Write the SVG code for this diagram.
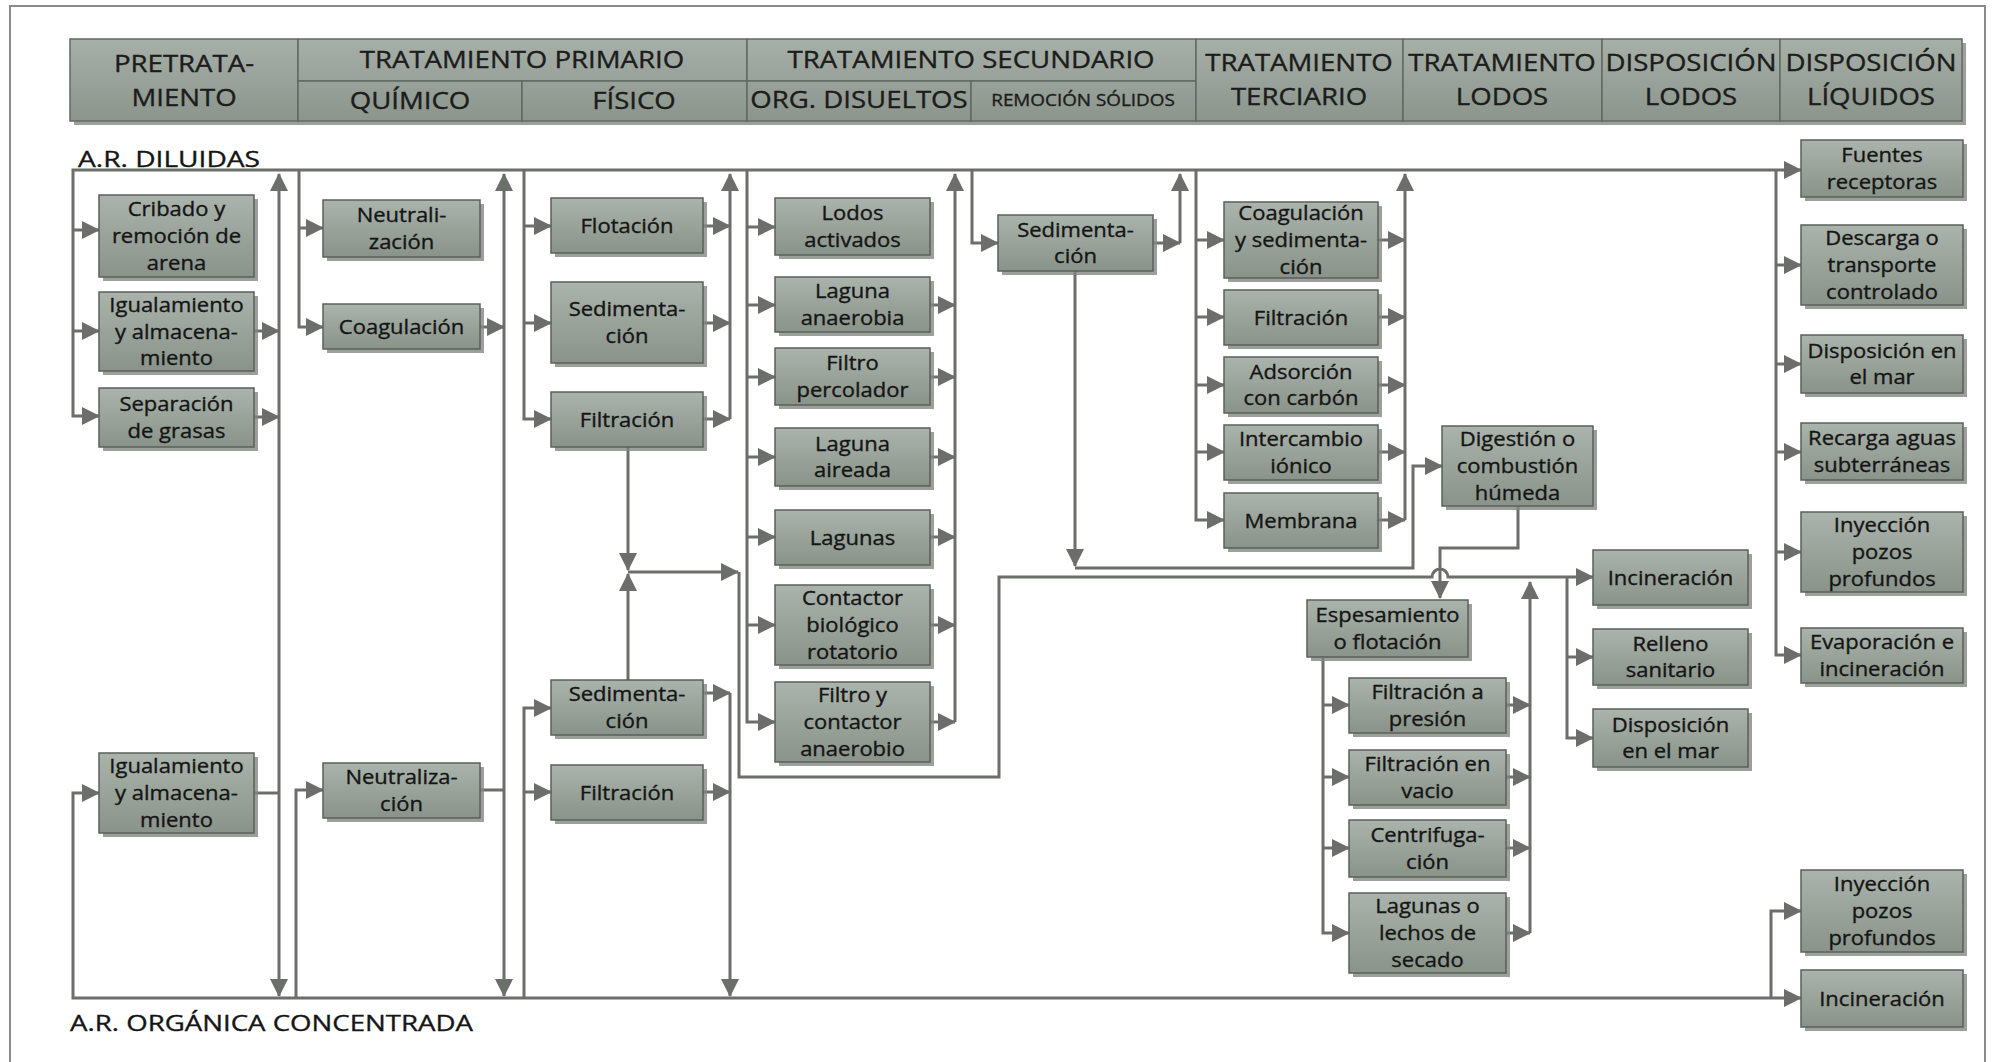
<svg xmlns="http://www.w3.org/2000/svg" width="1993" height="1062" viewBox="0 0 1993 1062">
  <defs>
    <linearGradient id="boxg" x1="0" y1="0" x2="0" y2="1">
      <stop offset="0" stop-color="#abb4ac"/>
      <stop offset="0.5" stop-color="#99a39a"/>
      <stop offset="1" stop-color="#89938a"/>
    </linearGradient>
    <linearGradient id="hdrg" gradientUnits="userSpaceOnUse" x1="0" y1="39" x2="0" y2="121">
      <stop offset="0" stop-color="#a7b0a8"/>
      <stop offset="1" stop-color="#8b958c"/>
    </linearGradient>
    <marker id="ah" markerUnits="userSpaceOnUse" markerWidth="18" markerHeight="18" refX="17" refY="9" orient="auto-start-reverse">
      <path d="M0,0 L18,9 L0,18 z" fill="#6b6e6b"/>
    </marker>
    <style>
      .box { fill: url(#boxg); stroke: #5a605a; stroke-width: 1.5; }
      .sh { fill: #838783; opacity: 0.8; }
      .hc { fill: url(#hdrg); stroke: #636963; stroke-width: 1.5; }
      .bt { font-family: "Open Sans", "Liberation Sans", sans-serif; font-size: 20px; fill: #151515; stroke: #151515; stroke-width: 0.35; text-anchor: middle; }
      .ht { font-family: "Open Sans", "Liberation Sans", sans-serif; font-size: 23px; fill: #1c1c1c; stroke: #1c1c1c; stroke-width: 0.35; text-anchor: middle; }
      .lb { font-family: "Open Sans", "Liberation Sans", sans-serif; font-size: 22px; fill: #151515; stroke: #151515; stroke-width: 0.35; }
      .c { fill: none; stroke: #6b6e6b; stroke-width: 3; }
      .a { marker-end: url(#ah); }
      .s { marker-start: url(#ah); }
    </style>
  </defs>

  <rect x="0" y="0" width="1993" height="1062" fill="#ffffff"/>
  <rect x="10" y="6" width="1975" height="1080" fill="none" stroke="#8a8a8a" stroke-width="2"/>

  <!-- column header band -->
  <g id="header">
    <rect class="sh" x="74" y="43" width="1892" height="82"/>
    <rect class="hc" x="70" y="39" width="228" height="82"/>
    <rect class="hc" x="298" y="39" width="449" height="42"/>
    <rect class="hc" x="298" y="81" width="224" height="40"/>
    <rect class="hc" x="522" y="81" width="225" height="40"/>
    <rect class="hc" x="747" y="39" width="449" height="42"/>
    <rect class="hc" x="747" y="81" width="224" height="40"/>
    <rect class="hc" x="971" y="81" width="225" height="40"/>
    <rect class="hc" x="1196" y="39" width="207" height="82"/>
    <rect class="hc" x="1403" y="39" width="199" height="82"/>
    <rect class="hc" x="1602" y="39" width="178" height="82"/>
    <rect class="hc" x="1780" y="39" width="182" height="82"/>
    <text class="ht" transform="translate(184 72) scale(1.2 1)"><tspan x="0" y="0">PRETRATA-</tspan><tspan x="0" y="34">MIENTO</tspan></text>
    <text class="ht" transform="translate(522 68) scale(1.2 1)">TRATAMIENTO PRIMARIO</text>
    <text class="ht" transform="translate(410 109) scale(1.2 1)">QUÍMICO</text>
    <text class="ht" transform="translate(634 109) scale(1.2 1)">FÍSICO</text>
    <text class="ht" transform="translate(971 68) scale(1.2 1)">TRATAMIENTO SECUNDARIO</text>
    <text class="ht" transform="translate(859 108) scale(1.2 1)">ORG. DISUELTOS</text>
    <text class="ht" transform="translate(1083 106) scale(1.18 1)" style="font-size:16px">REMOCIÓN SÓLIDOS</text>
    <text class="ht" transform="translate(1299 71) scale(1.2 1)"><tspan x="0" y="0">TRATAMIENTO</tspan><tspan x="0" y="34">TERCIARIO</tspan></text>
    <text class="ht" transform="translate(1502 71) scale(1.2 1)"><tspan x="0" y="0">TRATAMIENTO</tspan><tspan x="0" y="34">LODOS</tspan></text>
    <text class="ht" transform="translate(1691 71) scale(1.2 1)"><tspan x="0" y="0">DISPOSICIÓN</tspan><tspan x="0" y="34">LODOS</tspan></text>
    <text class="ht" transform="translate(1871 71) scale(1.2 1)"><tspan x="0" y="0">DISPOSICIÓN</tspan><tspan x="0" y="34">LÍQUIDOS</tspan></text>
  </g>

  <text class="lb" x="78" y="167" textLength="182" lengthAdjust="spacingAndGlyphs">A.R. DILUIDAS</text>
  <text class="lb" x="70" y="1031" textLength="403" lengthAdjust="spacingAndGlyphs">A.R. ORGÁNICA CONCENTRADA</text>

  <!-- flow lines -->
  <g id="connectors">
    <!-- main trunks -->
    <path class="c s a" d="M99,416 H73 V170 H1801"/>
    <path class="c s a" d="M99,793 H73 V998 H1801"/>

    <!-- pretratamiento -->
    <path class="c a" d="M73,230 H99"/>
    <path class="c a" d="M73,331 H99"/>
    <path class="c s a" d="M279,174 V996"/>
    <path class="c a" d="M254,331 H279"/>
    <path class="c a" d="M254,417 H279"/>
    <path class="c" d="M254,793 H279"/>

    <!-- químico -->
    <path class="c s" d="M323,327 H299 V170"/>
    <path class="c a" d="M299,228 H323"/>
    <path class="c s a" d="M504,174 V996"/>
    <path class="c a" d="M480,327 H504"/>
    <path class="c" d="M480,790 H504"/>
    <path class="c s" d="M323,790 H296 V998"/>

    <!-- físico -->
    <path class="c s" d="M551,419 H524 V170"/>
    <path class="c a" d="M524,226 H551"/>
    <path class="c a" d="M524,323 H551"/>
    <path class="c s" d="M730,174 V419"/>
    <path class="c a" d="M703,226 H730"/>
    <path class="c a" d="M703,323 H730"/>
    <path class="c a" d="M703,419 H730"/>
    <path class="c a" d="M628,447 V570"/>
    <path class="c a" d="M628,680 V574"/>
    <path class="c a" d="M628,572 H738"/>
    <path class="c a" d="M739,572 V777 H999 V577 H1432 A8,8 0 0 1 1448,577 H1593"/>
    <path class="c s" d="M551,708 H524 V998"/>
    <path class="c a" d="M524,792 H551"/>
    <path class="c a" d="M730,693 V996"/>
    <path class="c a" d="M703,693 H730"/>
    <path class="c a" d="M703,792 H730"/>

    <!-- orgánicos disueltos -->
    <path class="c s" d="M775,722 H747 V170"/>
    <path class="c a" d="M747,227 H775"/>
    <path class="c a" d="M747,305 H775"/>
    <path class="c a" d="M747,377 H775"/>
    <path class="c a" d="M747,457 H775"/>
    <path class="c a" d="M747,537 H775"/>
    <path class="c a" d="M747,625 H775"/>
    <path class="c s" d="M955,174 V722"/>
    <path class="c a" d="M930,305 H955"/>
    <path class="c a" d="M930,377 H955"/>
    <path class="c a" d="M930,457 H955"/>
    <path class="c a" d="M930,537 H955"/>
    <path class="c a" d="M930,625 H955"/>
    <path class="c a" d="M930,722 H955"/>

    <!-- remoción de sólidos -->
    <path class="c s" d="M998,243 H972 V170"/>
    <path class="c s" d="M1180,174 V243"/>
    <path class="c a" d="M1153,243 H1180"/>
    <path class="c a" d="M1075,271 V566"/>
    <path class="c a" d="M1075,568 H1413 V466 H1442"/>

    <!-- terciario -->
    <path class="c s" d="M1224,520 H1196 V170"/>
    <path class="c a" d="M1196,240 H1224"/>
    <path class="c a" d="M1196,317 H1224"/>
    <path class="c a" d="M1196,385 H1224"/>
    <path class="c a" d="M1196,452 H1224"/>
    <path class="c s" d="M1405,174 V520"/>
    <path class="c a" d="M1378,240 H1405"/>
    <path class="c a" d="M1378,317 H1405"/>
    <path class="c a" d="M1378,385 H1405"/>
    <path class="c a" d="M1378,452 H1405"/>
    <path class="c a" d="M1378,520 H1405"/>

    <!-- lodos -->
    <path class="c a" d="M1518,506 V548 H1440 V598"/>
    <path class="c a" d="M1567,577 V738 H1593"/>
    <path class="c a" d="M1567,657 H1593"/>
    <path class="c s" d="M1349,933 H1323 V657"/>
    <path class="c a" d="M1323,705 H1349"/>
    <path class="c a" d="M1323,777 H1349"/>
    <path class="c a" d="M1323,848 H1349"/>
    <path class="c a" d="M1530,933 V582"/>
    <path class="c a" d="M1506,705 H1530"/>
    <path class="c a" d="M1506,777 H1530"/>
    <path class="c a" d="M1506,848 H1530"/>
    <path class="c a" d="M1506,933 H1530"/>

    <!-- disposición de líquidos -->
    <path class="c a" d="M1776,170 V655 H1801"/>
    <path class="c a" d="M1776,265 H1801"/>
    <path class="c a" d="M1776,364 H1801"/>
    <path class="c a" d="M1776,452 H1801"/>
    <path class="c a" d="M1776,552 H1801"/>
    <path class="c a" d="M1771,998 V911 H1801"/>
  </g>

  <!-- process boxes -->
  <g id="n-cribado"><rect class="sh" x="103" y="199" width="155" height="82"/><rect class="box" x="99" y="195" width="155" height="82"/><text class="bt" transform="translate(176.5 236) scale(1.1 1)"><tspan x="0" y="-19.7">Cribado y</tspan><tspan x="0" y="7">remoción de</tspan><tspan x="0" y="33.7">arena</tspan></text></g>
  <g id="n-igualamiento1"><rect class="sh" x="103" y="296" width="155" height="79"/><rect class="box" x="99" y="292" width="155" height="79"/><text class="bt" transform="translate(176.5 331.5) scale(1.1 1)"><tspan x="0" y="-19.7">Igualamiento</tspan><tspan x="0" y="7">y almacena-</tspan><tspan x="0" y="33.7">miento</tspan></text></g>
  <g id="n-grasas"><rect class="sh" x="103" y="392" width="155" height="59"/><rect class="box" x="99" y="388" width="155" height="59"/><text class="bt" transform="translate(176.5 417.5) scale(1.1 1)"><tspan x="0" y="-6.3">Separación</tspan><tspan x="0" y="20.3">de grasas</tspan></text></g>
  <g id="n-igualamiento2"><rect class="sh" x="103" y="757" width="155" height="80"/><rect class="box" x="99" y="753" width="155" height="80"/><text class="bt" transform="translate(176.5 793) scale(1.1 1)"><tspan x="0" y="-19.7">Igualamiento</tspan><tspan x="0" y="7">y almacena-</tspan><tspan x="0" y="33.7">miento</tspan></text></g>

  <g id="n-neutralizacion1"><rect class="sh" x="327" y="204" width="157" height="57"/><rect class="box" x="323" y="200" width="157" height="57"/><text class="bt" transform="translate(401.5 228.5) scale(1.1 1)"><tspan x="0" y="-6.3">Neutrali-</tspan><tspan x="0" y="20.3">zación</tspan></text></g>
  <g id="n-coagulacion"><rect class="sh" x="327" y="308" width="157" height="45"/><rect class="box" x="323" y="304" width="157" height="45"/><text class="bt" transform="translate(401.5 326.5) scale(1.1 1)"><tspan x="0" y="7">Coagulación</tspan></text></g>
  <g id="n-neutralizacion2"><rect class="sh" x="327" y="767" width="157" height="55"/><rect class="box" x="323" y="763" width="157" height="55"/><text class="bt" transform="translate(401.5 790.5) scale(1.1 1)"><tspan x="0" y="-6.3">Neutraliza-</tspan><tspan x="0" y="20.3">ción</tspan></text></g>

  <g id="n-flotacion"><rect class="sh" x="555" y="202" width="152" height="55"/><rect class="box" x="551" y="198" width="152" height="55"/><text class="bt" transform="translate(627 225.5) scale(1.1 1)"><tspan x="0" y="7">Flotación</tspan></text></g>
  <g id="n-sedimentacion1"><rect class="sh" x="555" y="286" width="152" height="81"/><rect class="box" x="551" y="282" width="152" height="81"/><text class="bt" transform="translate(627 322.5) scale(1.1 1)"><tspan x="0" y="-6.3">Sedimenta-</tspan><tspan x="0" y="20.3">ción</tspan></text></g>
  <g id="n-filtracion1"><rect class="sh" x="555" y="396" width="152" height="55"/><rect class="box" x="551" y="392" width="152" height="55"/><text class="bt" transform="translate(627 419.5) scale(1.1 1)"><tspan x="0" y="7">Filtración</tspan></text></g>
  <g id="n-sedimentacion2"><rect class="sh" x="555" y="684" width="152" height="55"/><rect class="box" x="551" y="680" width="152" height="55"/><text class="bt" transform="translate(627 707.5) scale(1.1 1)"><tspan x="0" y="-6.3">Sedimenta-</tspan><tspan x="0" y="20.3">ción</tspan></text></g>
  <g id="n-filtracion2"><rect class="sh" x="555" y="769" width="152" height="55"/><rect class="box" x="551" y="765" width="152" height="55"/><text class="bt" transform="translate(627 792.5) scale(1.1 1)"><tspan x="0" y="7">Filtración</tspan></text></g>

  <g id="n-lodos-activados"><rect class="sh" x="779" y="202" width="155" height="57"/><rect class="box" x="775" y="198" width="155" height="57"/><text class="bt" transform="translate(852.5 226.5) scale(1.1 1)"><tspan x="0" y="-6.3">Lodos</tspan><tspan x="0" y="20.3">activados</tspan></text></g>
  <g id="n-laguna-anaerobia"><rect class="sh" x="779" y="281" width="155" height="55"/><rect class="box" x="775" y="277" width="155" height="55"/><text class="bt" transform="translate(852.5 304.5) scale(1.1 1)"><tspan x="0" y="-6.3">Laguna</tspan><tspan x="0" y="20.3">anaerobia</tspan></text></g>
  <g id="n-filtro-percolador"><rect class="sh" x="779" y="352" width="155" height="57"/><rect class="box" x="775" y="348" width="155" height="57"/><text class="bt" transform="translate(852.5 376.5) scale(1.1 1)"><tspan x="0" y="-6.3">Filtro</tspan><tspan x="0" y="20.3">percolador</tspan></text></g>
  <g id="n-laguna-aireada"><rect class="sh" x="779" y="432" width="155" height="58"/><rect class="box" x="775" y="428" width="155" height="58"/><text class="bt" transform="translate(852.5 457) scale(1.1 1)"><tspan x="0" y="-6.3">Laguna</tspan><tspan x="0" y="20.3">aireada</tspan></text></g>
  <g id="n-lagunas"><rect class="sh" x="779" y="514" width="155" height="55"/><rect class="box" x="775" y="510" width="155" height="55"/><text class="bt" transform="translate(852.5 537.5) scale(1.1 1)"><tspan x="0" y="7">Lagunas</tspan></text></g>
  <g id="n-contactor-rotatorio"><rect class="sh" x="779" y="589" width="155" height="80"/><rect class="box" x="775" y="585" width="155" height="80"/><text class="bt" transform="translate(852.5 625) scale(1.1 1)"><tspan x="0" y="-19.7">Contactor</tspan><tspan x="0" y="7">biológico</tspan><tspan x="0" y="33.7">rotatorio</tspan></text></g>
  <g id="n-contactor-anaerobio"><rect class="sh" x="779" y="686" width="155" height="80"/><rect class="box" x="775" y="682" width="155" height="80"/><text class="bt" transform="translate(852.5 722) scale(1.1 1)"><tspan x="0" y="-19.7">Filtro y</tspan><tspan x="0" y="7">contactor</tspan><tspan x="0" y="33.7">anaerobio</tspan></text></g>

  <g id="n-sedimentacion3"><rect class="sh" x="1002" y="219" width="155" height="56"/><rect class="box" x="998" y="215" width="155" height="56"/><text class="bt" transform="translate(1075.5 243) scale(1.1 1)"><tspan x="0" y="-6.3">Sedimenta-</tspan><tspan x="0" y="20.3">ción</tspan></text></g>

  <g id="n-coag-sedimentacion"><rect class="sh" x="1228" y="206" width="154" height="76"/><rect class="box" x="1224" y="202" width="154" height="76"/><text class="bt" transform="translate(1301 240) scale(1.1 1)"><tspan x="0" y="-19.7">Coagulación</tspan><tspan x="0" y="7">y sedimenta-</tspan><tspan x="0" y="33.7">ción</tspan></text></g>
  <g id="n-filtracion3"><rect class="sh" x="1228" y="294" width="154" height="55"/><rect class="box" x="1224" y="290" width="154" height="55"/><text class="bt" transform="translate(1301 317.5) scale(1.1 1)"><tspan x="0" y="7">Filtración</tspan></text></g>
  <g id="n-adsorcion"><rect class="sh" x="1228" y="361" width="154" height="56"/><rect class="box" x="1224" y="357" width="154" height="56"/><text class="bt" transform="translate(1301 385) scale(1.1 1)"><tspan x="0" y="-6.3">Adsorción</tspan><tspan x="0" y="20.3">con carbón</tspan></text></g>
  <g id="n-intercambio"><rect class="sh" x="1228" y="429" width="154" height="55"/><rect class="box" x="1224" y="425" width="154" height="55"/><text class="bt" transform="translate(1301 452.5) scale(1.1 1)"><tspan x="0" y="-6.3">Intercambio</tspan><tspan x="0" y="20.3">iónico</tspan></text></g>
  <g id="n-membrana"><rect class="sh" x="1228" y="497" width="154" height="55"/><rect class="box" x="1224" y="493" width="154" height="55"/><text class="bt" transform="translate(1301 520.5) scale(1.1 1)"><tspan x="0" y="7">Membrana</tspan></text></g>

  <g id="n-digestion"><rect class="sh" x="1446" y="430" width="151" height="80"/><rect class="box" x="1442" y="426" width="151" height="80"/><text class="bt" transform="translate(1517.5 466) scale(1.1 1)"><tspan x="0" y="-19.7">Digestión o</tspan><tspan x="0" y="7">combustión</tspan><tspan x="0" y="33.7">húmeda</tspan></text></g>
  <g id="n-espesamiento"><rect class="sh" x="1311" y="604" width="161" height="57"/><rect class="box" x="1307" y="600" width="161" height="57"/><text class="bt" transform="translate(1387.5 628.5) scale(1.1 1)"><tspan x="0" y="-6.3">Espesamiento</tspan><tspan x="0" y="20.3">o flotación</tspan></text></g>
  <g id="n-filtracion-presion"><rect class="sh" x="1353" y="682" width="157" height="55"/><rect class="box" x="1349" y="678" width="157" height="55"/><text class="bt" transform="translate(1427.5 705.5) scale(1.1 1)"><tspan x="0" y="-6.3">Filtración a</tspan><tspan x="0" y="20.3">presión</tspan></text></g>
  <g id="n-filtracion-vacio"><rect class="sh" x="1353" y="754" width="157" height="55"/><rect class="box" x="1349" y="750" width="157" height="55"/><text class="bt" transform="translate(1427.5 777.5) scale(1.1 1)"><tspan x="0" y="-6.3">Filtración en</tspan><tspan x="0" y="20.3">vacio</tspan></text></g>
  <g id="n-centrifugacion"><rect class="sh" x="1353" y="824" width="157" height="57"/><rect class="box" x="1349" y="820" width="157" height="57"/><text class="bt" transform="translate(1427.5 848.5) scale(1.1 1)"><tspan x="0" y="-6.3">Centrifuga-</tspan><tspan x="0" y="20.3">ción</tspan></text></g>
  <g id="n-lechos-secado"><rect class="sh" x="1353" y="897" width="157" height="80"/><rect class="box" x="1349" y="893" width="157" height="80"/><text class="bt" transform="translate(1427.5 933) scale(1.1 1)"><tspan x="0" y="-19.7">Lagunas o</tspan><tspan x="0" y="7">lechos de</tspan><tspan x="0" y="33.7">secado</tspan></text></g>

  <g id="n-incineracion1"><rect class="sh" x="1597" y="554" width="155" height="55"/><rect class="box" x="1593" y="550" width="155" height="55"/><text class="bt" transform="translate(1670.5 577.5) scale(1.1 1)"><tspan x="0" y="7">Incineración</tspan></text></g>
  <g id="n-relleno"><rect class="sh" x="1597" y="633" width="155" height="56"/><rect class="box" x="1593" y="629" width="155" height="56"/><text class="bt" transform="translate(1670.5 657) scale(1.1 1)"><tspan x="0" y="-6.3">Relleno</tspan><tspan x="0" y="20.3">sanitario</tspan></text></g>
  <g id="n-disposicion-mar1"><rect class="sh" x="1597" y="713" width="155" height="58"/><rect class="box" x="1593" y="709" width="155" height="58"/><text class="bt" transform="translate(1670.5 738) scale(1.1 1)"><tspan x="0" y="-6.3">Disposición</tspan><tspan x="0" y="20.3">en el mar</tspan></text></g>

  <g id="n-fuentes"><rect class="sh" x="1805" y="144" width="162" height="57"/><rect class="box" x="1801" y="140" width="162" height="57"/><text class="bt" transform="translate(1882 168.5) scale(1.1 1)"><tspan x="0" y="-6.3">Fuentes</tspan><tspan x="0" y="20.3">receptoras</tspan></text></g>
  <g id="n-descarga"><rect class="sh" x="1805" y="229" width="162" height="80"/><rect class="box" x="1801" y="225" width="162" height="80"/><text class="bt" transform="translate(1882 265) scale(1.1 1)"><tspan x="0" y="-19.7">Descarga o</tspan><tspan x="0" y="7">transporte</tspan><tspan x="0" y="33.7">controlado</tspan></text></g>
  <g id="n-disposicion-mar2"><rect class="sh" x="1805" y="339" width="162" height="58"/><rect class="box" x="1801" y="335" width="162" height="58"/><text class="bt" transform="translate(1882 364) scale(1.1 1)"><tspan x="0" y="-6.3">Disposición en</tspan><tspan x="0" y="20.3">el mar</tspan></text></g>
  <g id="n-recarga"><rect class="sh" x="1805" y="427" width="162" height="57"/><rect class="box" x="1801" y="423" width="162" height="57"/><text class="bt" transform="translate(1882 451.5) scale(1.1 1)"><tspan x="0" y="-6.3">Recarga aguas</tspan><tspan x="0" y="20.3">subterráneas</tspan></text></g>
  <g id="n-inyeccion1"><rect class="sh" x="1805" y="516" width="162" height="80"/><rect class="box" x="1801" y="512" width="162" height="80"/><text class="bt" transform="translate(1882 552) scale(1.1 1)"><tspan x="0" y="-19.7">Inyección</tspan><tspan x="0" y="7">pozos</tspan><tspan x="0" y="33.7">profundos</tspan></text></g>
  <g id="n-evaporacion"><rect class="sh" x="1805" y="632" width="162" height="55"/><rect class="box" x="1801" y="628" width="162" height="55"/><text class="bt" transform="translate(1882 655.5) scale(1.1 1)"><tspan x="0" y="-6.3">Evaporación e</tspan><tspan x="0" y="20.3">incineración</tspan></text></g>
  <g id="n-inyeccion2"><rect class="sh" x="1805" y="874" width="162" height="82"/><rect class="box" x="1801" y="870" width="162" height="82"/><text class="bt" transform="translate(1882 911) scale(1.1 1)"><tspan x="0" y="-19.7">Inyección</tspan><tspan x="0" y="7">pozos</tspan><tspan x="0" y="33.7">profundos</tspan></text></g>
  <g id="n-incineracion2"><rect class="sh" x="1805" y="974" width="162" height="57"/><rect class="box" x="1801" y="970" width="162" height="57"/><text class="bt" transform="translate(1882 998.5) scale(1.1 1)"><tspan x="0" y="7">Incineración</tspan></text></g>
</svg>
